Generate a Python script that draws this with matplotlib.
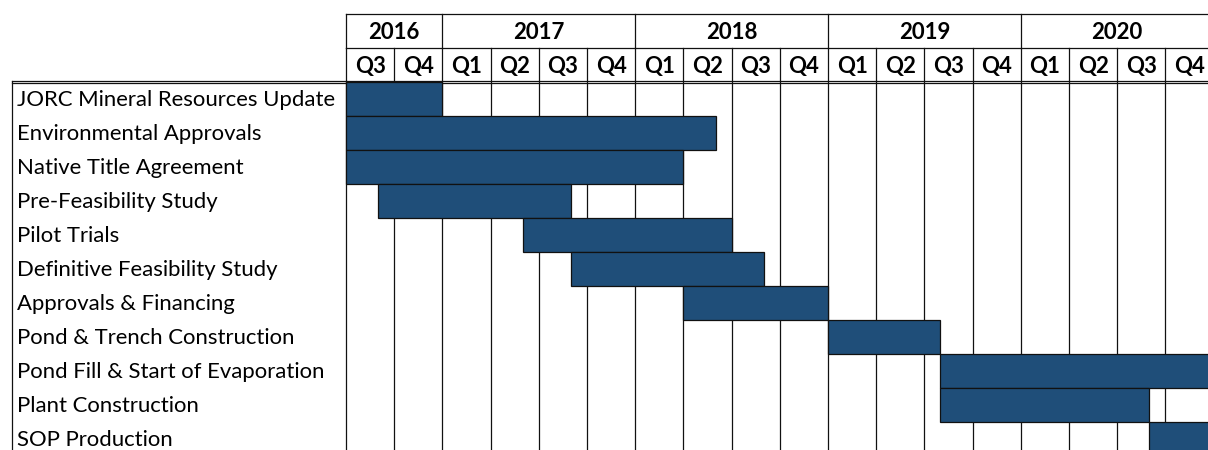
import matplotlib
matplotlib.use("Agg")
import matplotlib.pyplot as plt

plt.rcParams['font.family'] = ['Lato', 'DejaVu Sans']

# ---- data ----
tasks = ["JORC Mineral Resources Update", "Environmental Approvals",
         "Native Title Agreement", "Pre-Feasibility Study", "Pilot Trials",
         "Definitive Feasibility Study", "Approvals & Financing",
         "Pond & Trench Construction", "Pond Fill & Start of Evaporation",
         "Plant Construction", "SOP Production"]
# months counted from start of 2016 Q3 (July 2016)
start_month = [0, 0, 0, 2, 11, 14, 21, 30, 37, 37, 50]
end_month = [6, 23, 21, 14, 24, 26, 30, 37, 54, 50, 54]
years = ["2016", "2017", "2018", "2019", "2020"]
year_start = [0, 6, 18, 30, 42]
year_end = [6, 18, 30, 42, 54]
quarter_labels = ["Q3", "Q4"] + ["Q1", "Q2", "Q3", "Q4"] * 4

W, H = 1208, 450
BAR = "#1F4E79"
fig = plt.figure(figsize=(W / 100, H / 100), dpi=100)

# pixel geometry
gx0 = 346
qw = 48.2
nq = len(quarter_labels)
top = 14
rowh = 34
nrows = len(tasks) + 2
gx1 = gx0 + nq * qw
ybot = top + nrows * rowh

ax = fig.add_axes([gx0 / W, 1 - ybot / H, (gx1 - gx0) / W, (ybot - top) / H])
ax.set_xlim(0, 3 * nq)
ax.set_ylim(len(tasks), -2)
ax.axis('off')

lax = fig.add_axes([12 / W, 1 - ybot / H, (gx0 - 12) / W, (ybot - top) / H])
lax.set_xlim(0, 1)
lax.set_ylim(len(tasks), -2)
lax.axis('off')

lc = "#111111"
lw = 0.9
total = 3 * nq
# body vertical quarter lines
for q in range(nq + 1):
    ax.plot([3 * q, 3 * q], [-1, len(tasks)], color=lc, lw=lw, zorder=1,
            clip_on=False)
# year boundary lines in year row
for s in year_start + [year_end[-1]]:
    ax.plot([s, s], [-2, -1], color=lc, lw=lw, zorder=1, clip_on=False)
# horizontal header lines
ax.plot([0, total], [-2, -2], color=lc, lw=lw, clip_on=False)
ax.plot([0, total], [-1, -1], color=lc, lw=lw, clip_on=False)
for dy in (-0.035, 0.035):
    ax.plot([0, total], [dy, dy], color=lc, lw=lw, clip_on=False)
    lax.plot([0, 1], [dy, dy], color=lc, lw=lw, clip_on=False)
lax.plot([0, 0], [-0.035, len(tasks)], color=lc, lw=lw, clip_on=False)

# bars
rows = [i + 0.5 for i in range(len(tasks))]
widths = [e - s for s, e in zip(start_month, end_month)]
ax.barh(rows, widths, left=start_month, height=1.0, color=BAR,
        edgecolor=lc, linewidth=lw, zorder=3, clip_on=False)

# header text
for y, s, e in zip(years, year_start, year_end):
    ax.text((s + e) / 2, -1.47, y, ha='center', va='center',
            fontsize=16, fontweight='bold', color='black')
for i, q in enumerate(quarter_labels):
    ax.text(3 * i + 1.5, -0.47, q, ha='center', va='center',
            fontsize=16, fontweight='bold', color='black')

# task labels
for r, t in zip(rows, tasks):
    lax.text(0.015, r + 0.04, t, ha='left', va='center', fontsize=15.9,
             color='black')

fig.savefig("out.png", dpi=100)
